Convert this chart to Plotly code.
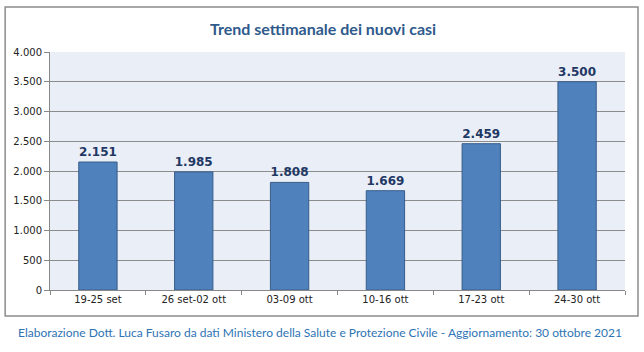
import plotly.graph_objects as go

categories = ["19-25 set", "26 set-02 ott", "03-09 ott", "10-16 ott", "17-23 ott", "24-30 ott"]
values = [2151, 1985, 1808, 1669, 2459, 3500]
labels = ["<b>2.151</b>", "<b>1.985</b>", "<b>1.808</b>", "<b>1.669</b>", "<b>2.459</b>", "<b>3.500</b>"]

fig = go.Figure()
fig.add_trace(go.Bar(
    x=categories, y=values, text=labels, textposition="outside",
    textfont=dict(family="DejaVu Sans", size=12, color="#1F3864"),
    marker=dict(color="#4F81BD", line=dict(color="#385D8A", width=1)),
    width=0.4, cliponaxis=False,
))

fig.update_layout(
    width=644, height=352,
    margin=dict(l=50, r=19, t=52, b=62),
    paper_bgcolor="white", plot_bgcolor="#EAEEF6",
    separators=",.",
    showlegend=False,
    font=dict(family="DejaVu Sans", size=10, color="#222222"),
    xaxis=dict(tickson="boundaries", ticks="outside", ticklen=4, tickcolor="#888888",
               showline=True, linecolor="#888888", showgrid=False,
               tickfont=dict(family="DejaVu Sans", size=10, color="#222222")),
    yaxis=dict(range=[0, 4000], dtick=500, tickformat=",d", ticks="outside", ticklen=5,
               tickcolor="#888888", showline=True, linecolor="#888888",
               showgrid=True, gridcolor="#8C8C8C", gridwidth=1, zeroline=False,
               tickfont=dict(family="DejaVu Sans", size=10, color="#222222")),
    shapes=[dict(type="rect", xref="paper", yref="paper",
                 x0=-0.078, x1=1.0226, y0=-0.109, y1=1.189,
                 line=dict(color="#8C8C8C", width=1.5), fillcolor="rgba(0,0,0,0)", layer="below")],
    annotations=[
        dict(text="<b>Trend settimanale dei nuovi casi</b>", xref="paper", yref="paper",
             x=0.475, y=1.10, xanchor="center", yanchor="middle", showarrow=False,
             font=dict(family="Lato", size=16, color="#2F5A8C")),
        dict(text="Elaborazione Dott. Luca Fusaro da dati Ministero della Salute e Protezione Civile - Aggiornamento: 30 ottobre 2021",
             xref="paper", yref="paper", x=0.47, y=-0.18, xanchor="center", yanchor="middle",
             showarrow=False, font=dict(family="Lato", size=12, color="#2E74B5")),
    ],
)

fig.write_html("out.html")
